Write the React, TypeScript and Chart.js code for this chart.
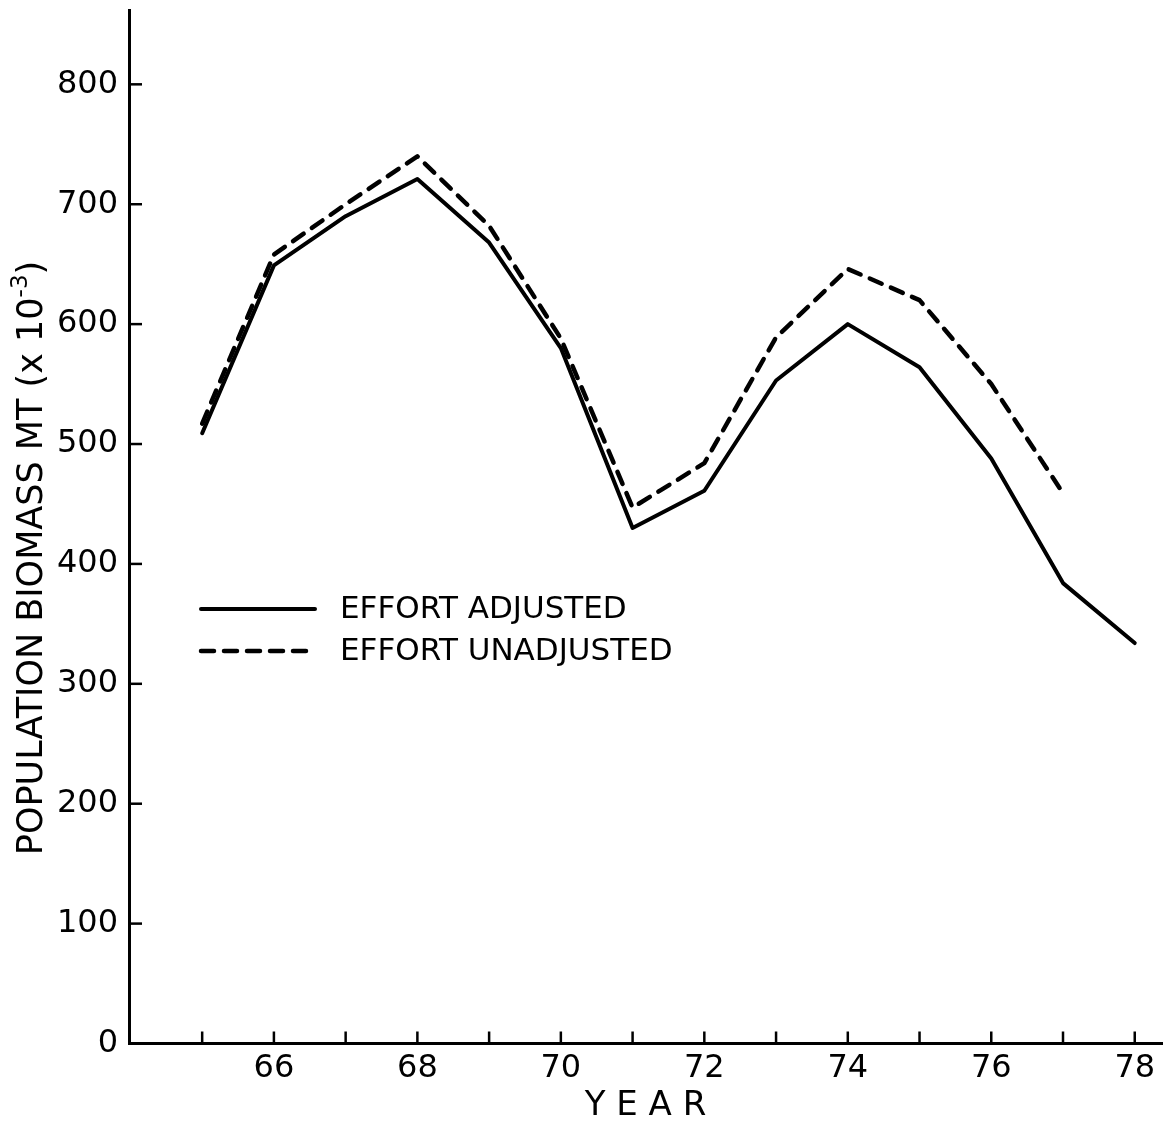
import React, { useEffect, useRef } from "react";
import { Chart, registerables } from "chart.js";

Chart.register(...registerables);

// ---- data ----
const years = [65, 66, 67, 68, 69, 70, 71, 72, 73, 74, 75, 76, 77, 78];
const effortAdjusted = [509, 649, 690, 721, 668, 580, 430, 461, 553, 600, 564, 488, 384, 334];
const effortUnadjusted = [517, 658, 700, 740, 682, 588, 447, 484, 589, 646, 620, 550, 459];
const xTickYears = [65, 66, 67, 68, 69, 70, 71, 72, 73, 74, 75, 76, 77, 78];
const xLabelYears = [66, 68, 70, 72, 74, 76, 78];
const yTicks = [0, 100, 200, 300, 400, 500, 600, 700, 800];
const seriesLabels = ["EFFORT ADJUSTED", "EFFORT UNADJUSTED"];
const yTitleMain = "POPULATION BIOMASS MT (x 10";
const yTitleExp = "-3";
const yTitleEnd = ")";
const xTitle = "Y E A R";

const FONT = '"DejaVu Sans", "Liberation Sans", sans-serif';
const DASH = [13, 10];

const decorPlugin = {
  id: "decor",
  afterDraw(chart: any) {
    const { ctx, chartArea, scales } = chart;
    const xs = scales.x;
    const ys = scales.y;
    ctx.save();
    ctx.strokeStyle = "#000";
    ctx.fillStyle = "#000";
    // inward tick marks
    ctx.lineWidth = 2.5;
    ctx.lineCap = "butt";
    xTickYears.forEach((v) => {
      const px = xs.getPixelForValue(v);
      ctx.beginPath();
      ctx.moveTo(px, chartArea.bottom);
      ctx.lineTo(px, chartArea.bottom - 12);
      ctx.stroke();
    });
    yTicks.forEach((v) => {
      if (v === 0) return;
      const py = ys.getPixelForValue(v);
      ctx.beginPath();
      ctx.moveTo(chartArea.left, py);
      ctx.lineTo(chartArea.left + 13, py);
      ctx.stroke();
    });

    // legend
    const lx0 = chartArea.left + 72;
    const lx1 = chartArea.left + 186;
    const tx = chartArea.left + 211;
    const rows = [609, 651];
    ctx.font = `31px ${FONT}`;
    ctx.textBaseline = "middle";
    ctx.textAlign = "left";
    rows.forEach((ry, i) => {
      ctx.lineWidth = i === 0 ? 4 : 4.5;
      ctx.lineCap = "round";
      ctx.setLineDash(i === 0 ? [] : DASH);
      ctx.beginPath();
      ctx.moveTo(lx0, ry);
      ctx.lineTo(lx1, ry);
      ctx.stroke();
      ctx.setLineDash([]);
      ctx.fillText(seriesLabels[i], tx, ry + 1);
    });

    // y axis title with superscript
    ctx.translate(33, 558);
    ctx.rotate(-Math.PI / 2);
    const mainFont = `35px ${FONT}`;
    const expFont = `23px ${FONT}`;
    ctx.font = mainFont;
    const w1 = ctx.measureText(yTitleMain).width;
    const w3 = ctx.measureText(yTitleEnd).width;
    ctx.font = expFont;
    const w2 = ctx.measureText(yTitleExp).width;
    const total = w1 + w2 + w3;
    let cx = -total / 2;
    ctx.textAlign = "left";
    ctx.textBaseline = "middle";
    ctx.font = mainFont;
    ctx.fillText(yTitleMain, cx, 0);
    cx += w1;
    ctx.font = expFont;
    ctx.fillText(yTitleExp, cx, -12);
    cx += w2;
    ctx.font = mainFont;
    ctx.fillText(yTitleEnd, cx, 0);
    ctx.restore();
  },
};

export default function App() {
  const ref = useRef<HTMLCanvasElement | null>(null);
  useEffect(() => {
    if (!ref.current) return;
    const chart = new Chart(ref.current, {
      type: "line",
      data: {
        datasets: [
          {
            label: seriesLabels[0],
            data: years.map((y, i) => ({ x: y, y: effortAdjusted[i] })),
            borderColor: "#000",
            borderWidth: 4,
            borderCapStyle: "round",
            borderJoinStyle: "round",
            pointRadius: 0,
            tension: 0,
            fill: false,
          },
          {
            label: seriesLabels[1],
            data: effortUnadjusted.map((v, i) => ({ x: years[i], y: v })),
            borderColor: "#000",
            borderWidth: 4.5,
            borderDash: DASH,
            borderCapStyle: "round",
            borderJoinStyle: "round",
            pointRadius: 0,
            tension: 0,
            fill: false,
          },
        ],
      },
      options: {
        responsive: false,
        animation: false,
        layout: { padding: { top: 10, right: 4, left: 0, bottom: 0 } },
        plugins: {
          legend: { display: false },
          tooltip: { enabled: false },
        },
        scales: {
          x: {
            type: "linear",
            min: 63.98,
            max: 78.38,
            afterBuildTicks: (s: any) => {
              s.ticks = xTickYears.map((v) => ({ value: v }));
            },
            afterFit: (s: any) => {
              s.height = 87.5;
              s.paddingLeft = 0;
              s.paddingRight = 0;
            },
            grid: { display: false, drawTicks: false },
            border: { display: true, color: "#000", width: 3 },
            ticks: {
              autoSkip: false,
              maxRotation: 0,
              padding: 6,
              color: "#000",
              font: { family: FONT, size: 32 },
              callback: (v: any) => (xLabelYears.includes(Number(v)) ? String(v) : ""),
            },
            title: {
              display: true,
              text: xTitle,
              color: "#000",
              font: { family: FONT, size: 34 },
              padding: { top: 0, bottom: 4 },
            },
          },
          y: {
            type: "linear",
            min: 0,
            max: 862,
            afterBuildTicks: (s: any) => {
              s.ticks = yTicks.map((v) => ({ value: v }));
            },
            afterFit: (s: any) => {
              s.width = 129;
              s.paddingTop = 0;
              s.paddingBottom = 0;
            },
            grid: { display: false, drawTicks: false },
            border: { display: true, color: "#000", width: 3 },
            ticks: {
              autoSkip: false,
              padding: 11,
              color: "#000",
              font: { family: FONT, size: 32 },
              callback: (v: any) => String(v),
            },
          },
        },
      },
      plugins: [decorPlugin],
    } as any);
    return () => chart.destroy();
  }, []);
  return (
    <div style={{ position: "absolute", left: 0, top: 0, width: 1166, height: 1131, background: "#fff" }}>
      <canvas ref={ref} width={1166} height={1131} style={{ display: "block" }} />
    </div>
  );
}
